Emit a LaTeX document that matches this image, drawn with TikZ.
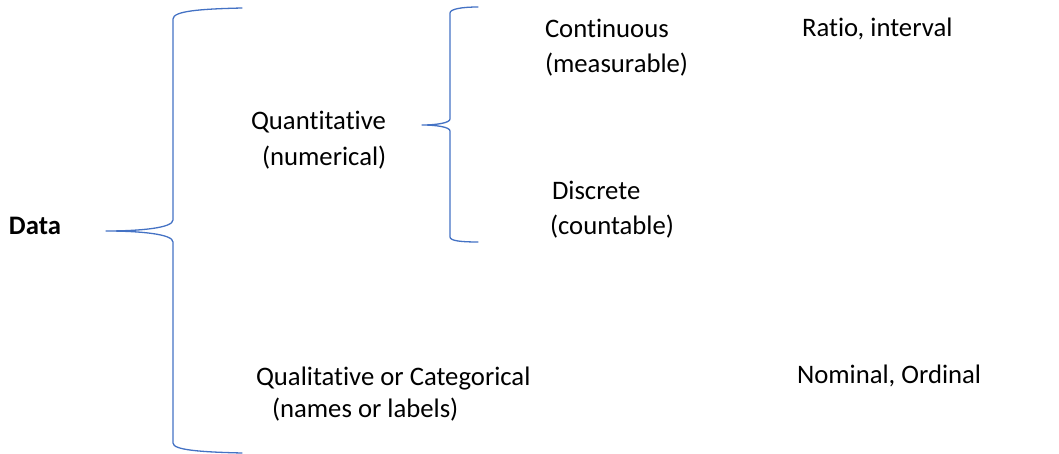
\documentclass[tikz,border=0pt]{standalone}
\usepackage{fontspec}
\setmainfont[Ligatures=NoCommon]{Carlito}
\definecolor{braceblue}{HTML}{4472C4}
\begin{document}
\begin{tikzpicture}[x=1pt,y=-1pt,
  lbl/.style={anchor=base west,inner sep=0pt,outer sep=0pt,font=\fontsize{26.7}{32}\selectfont},
  brace/.style={draw=braceblue,line width=1.3pt,line cap=round,line join=round}]
\useasboundingbox (0,0) rectangle (1059,454);
% labels
\node[lbl,font=\fontsize{26.7}{32}\selectfont\bfseries] (data) at (9,235) {Data};
\node[lbl] (quant) at (251,130) {Quantitative};
\node[lbl] (quantsub) at (262,166) {(numerical)};
\node[lbl] (cont) at (545,38) {Continuous};
\node[lbl] (contsub) at (545,73) {(measurable)};
\node[lbl] (ratio) at (802,37) {Ratio, interval};
\node[lbl] (disc) at (552,200) {Discrete};
\node[lbl] (discsub) at (550,235) {(countable)};
\node[lbl] (qual) at (256,385) {Qualitative or Categorical};
\node[lbl] (qualsub) at (272,417) {(names or labels)};
\node[lbl] (nom) at (797,383) {Nominal, Ordinal};
% brace tips
\coordinate (bigtip) at (106,231);
\coordinate (smalltip) at (422,125);
% big brace
\draw[brace] (242,8) .. controls (200,9) and (173,11) .. (173,19)
  -- (173,220) .. controls (173,228) and (140,231) .. (bigtip)
  .. controls (140,231) and (173,234) .. (173,242)
  -- (173,443) .. controls (173,450) and (200,452) .. (242,453);
% small brace
\draw[brace] (478,7) .. controls (462,7) and (450,9) .. (450,13)
  -- (450,119) .. controls (450,123) and (436,125) .. (smalltip)
  .. controls (436,125) and (450,127) .. (450,131)
  -- (450,237) .. controls (450,241) and (462,242) .. (478,242);
\end{tikzpicture}
\end{document}
